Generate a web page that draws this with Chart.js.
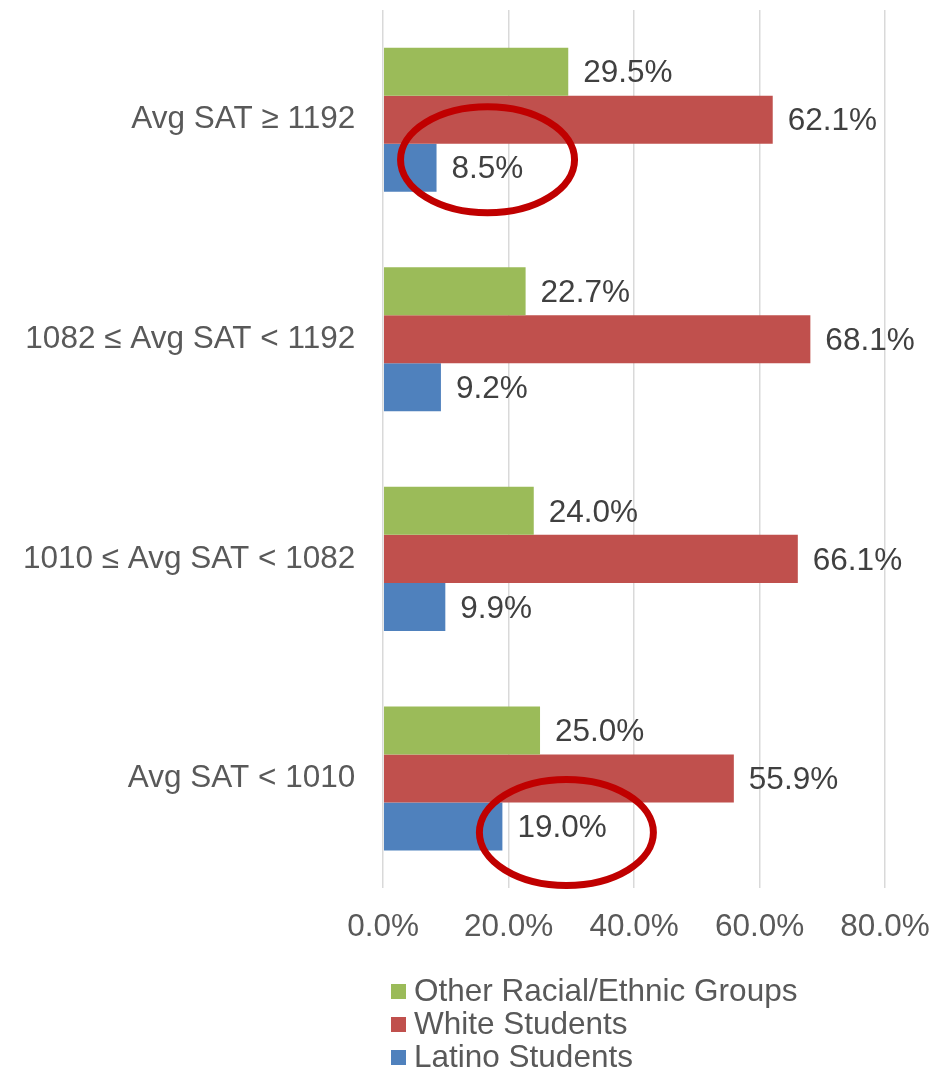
<!DOCTYPE html>
<html>
<head>
<meta charset="utf-8">
<script src="https://cdn.jsdelivr.net/npm/chart.js@4.4.1/dist/chart.umd.min.js"></script>
<style>
  html, body { margin: 0; padding: 0; background: #fff; }
  #wrap { width: 942px; height: 1068px; }
</style>
</head>
<body>
<div id="wrap"><canvas id="chart" width="942" height="1068"></canvas></div>
<script>
const categories = ['Avg SAT ≥ 1192', '1082 ≤ Avg SAT < 1192', '1010 ≤ Avg SAT < 1082', 'Avg SAT < 1010'];
const otherGroups = [29.5, 22.7, 24.0, 25.0];
const whiteStudents = [62.1, 68.1, 66.1, 55.9];
const latinoStudents = [8.5, 9.2, 9.9, 19.0];
const seriesNames = ['Other Racial/Ethnic Groups', 'White Students', 'Latino Students'];
const xTicks = [0, 20, 40, 60, 80];

// red circles drawn around two of the Latino labels (category index, offset from bar end)
const circled = [
    { index: 0, dx: 51, dy: -8 },
    { index: 3, dx: 64, dy: 6 }
];

const FONT = '"Liberation Sans", Arial, sans-serif';
const FSIZE = 31.5;

const dataLabels = {
    id: 'dataLabels',
    afterDatasetsDraw(chart) {
        const ctx = chart.ctx;
        ctx.save();
        ctx.font = FSIZE + 'px ' + FONT;
        ctx.fillStyle = '#404040';
        ctx.textAlign = 'left';
        ctx.textBaseline = 'middle';
        chart.data.datasets.forEach((ds, i) => {
            chart.getDatasetMeta(i).data.forEach((bar, j) => {
                ctx.fillText(ds.data[j].toFixed(1) + '%', bar.x + 15, bar.y + 2);
            });
        });
        ctx.restore();
    }
};

const circles = {
    id: 'circles',
    afterDraw(chart) {
        const ctx = chart.ctx;
        const meta = chart.getDatasetMeta(2);
        ctx.save();
        ctx.strokeStyle = '#c00000';
        ctx.lineWidth = 7;
        circled.forEach(c => {
            const bar = meta.data[c.index];
            ctx.beginPath();
            ctx.ellipse(bar.x + c.dx, bar.y + c.dy, 87, 53, 0, 0, Math.PI * 2);
            ctx.stroke();
        });
        ctx.restore();
    }
};

const bottomLegend = {
    id: 'bottomLegend',
    afterDraw(chart) {
        const ctx = chart.ctx;
        ctx.save();
        ctx.font = FSIZE + 'px ' + FONT;
        ctx.textBaseline = 'middle';
        chart.data.datasets.forEach((ds, i) => {
            const y = 991 + i * 33;
            ctx.fillStyle = ds.backgroundColor;
            ctx.fillRect(391, y - 7, 15, 15);
            ctx.fillStyle = '#595959';
            ctx.fillText(ds.label, 414, y + 1);
        });
        ctx.restore();
    }
};

// drop the extra space Chart.js keeps for overhanging tick labels
const noOverhang = scale => {
    scale.paddingTop = 0;
    scale.paddingBottom = 0;
    scale.paddingLeft = 0;
    scale.paddingRight = 0;
};

new Chart(document.getElementById('chart'), {
    type: 'bar',
    data: {
        labels: categories,
        datasets: [
            { label: seriesNames[0], data: otherGroups, backgroundColor: '#9bbb59' },
            { label: seriesNames[1], data: whiteStudents, backgroundColor: '#c0504d' },
            { label: seriesNames[2], data: latinoStudents, backgroundColor: '#4f81bd' }
        ]
    },
    options: {
        indexAxis: 'y',
        responsive: false,
        animation: false,
        devicePixelRatio: 1,
        datasets: { bar: { categoryPercentage: 0.656, barPercentage: 1.0 } },
        layout: { padding: { left: -5, top: 10, right: 57, bottom: 102 } },
        plugins: {
            legend: { display: false },
            tooltip: { enabled: false }
        },
        scales: {
            x: {
                min: 0,
                max: 80,
                afterBuildTicks: axis => { axis.ticks = xTicks.map(v => ({ value: v })); },
                afterFit: noOverhang,
                ticks: {
                    callback: v => v.toFixed(1) + '%',
                    font: { size: FSIZE, family: FONT },
                    color: '#595959',
                    padding: 20,
                    maxRotation: 0
                },
                grid: { color: '#d9d9d9', lineWidth: 1.5, drawTicks: false },
                border: { display: false }
            },
            y: {
                afterFit: noOverhang,
                ticks: {
                    font: { size: FSIZE, family: FONT },
                    color: '#595959',
                    padding: 28
                },
                grid: { display: false, drawTicks: false },
                border: { display: false }
            }
        }
    },
    plugins: [dataLabels, circles, bottomLegend]
});
</script>
</body>
</html>
